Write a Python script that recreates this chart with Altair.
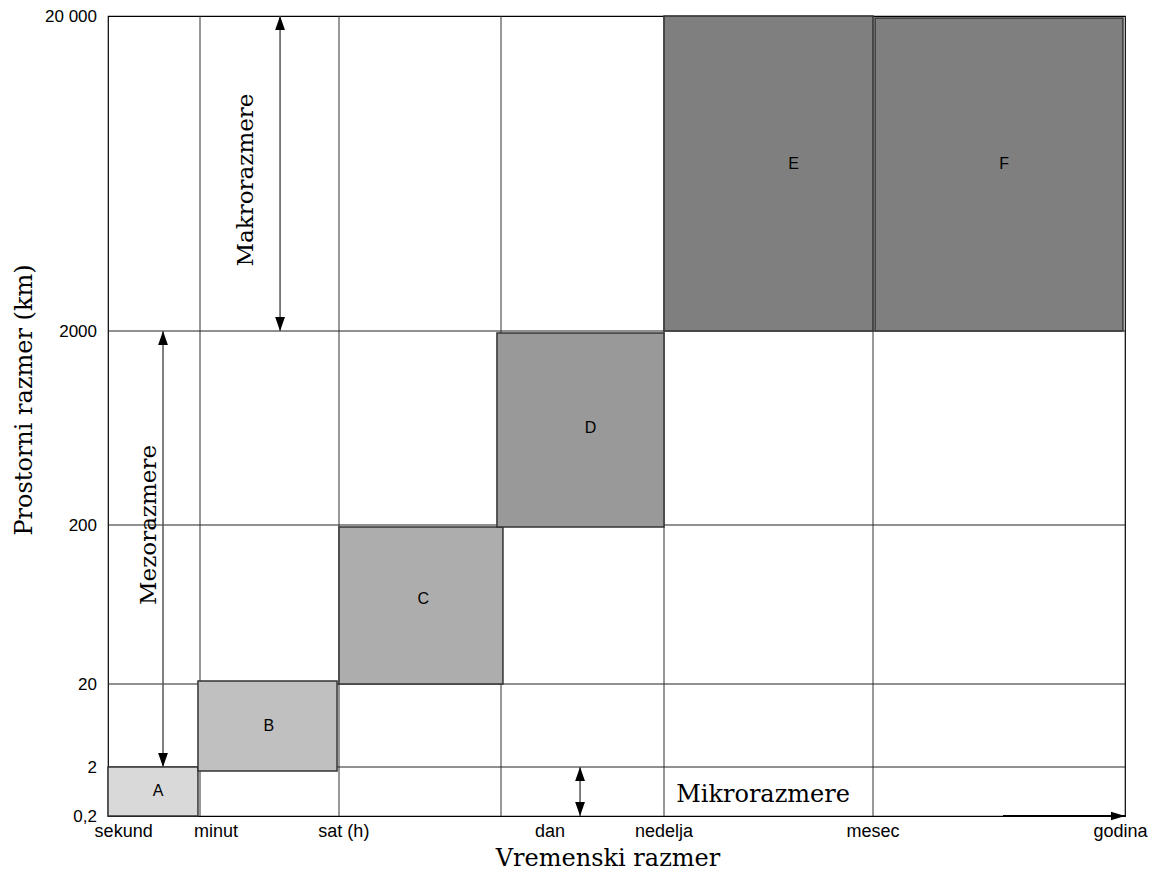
import altair as alt
import pandas as pd

# ---- axes -------------------------------------------------------------
x_breaks = [0, 1, 2, 3, 4, 5, 6]
y_levels = [0.2, 2, 20, 200, 2000, 20000]
y_tick_labels = ["0,2", "2", "20", "200", "2000", "20 000"]

time_labels = ["sekund", "minut", "sat (h)", "dan", "nedelja", "mesec", "godina"]
time_label_pos = [0.17, 1.115, 2.03, 3.3, 4.0, 5.0, 5.982]

# ---- boxes ------------------------------------------------------------
box_names = ["A", "B", "C", "D", "E", "F"]
box_x0 = [0.0, 0.978, 2.0, 2.975, 4.0, 5.008]
box_x1 = [0.978, 1.986, 3.012, 4.0, 5.0, 5.992]
box_y0 = [0.2, 1.85, 20, 197.7, 2000, 2000]
box_y1 = [2, 23.4, 197.7, 1981, 20000, 19886]
box_colors = ["#d9d9d9", "#c0c0c0", "#adadad", "#999999", "#7f7f7f", "#7f7f7f"]
label_x = [0.543, 1.496, 2.52, 3.55, 4.62, 5.52]
label_y = [1.12, 10.9, 116, 1100, 11543, 11543]

# ---- scale arrows & annotations ---------------------------------------
arrow_names = ["Makrorazmere", "Mezorazmere", "Mikrorazmere"]
arrow_x = [1.576, 0.598, 3.485]
arrow_lo = [2000, 2, 0.2]
arrow_hi = [20000, 2000, 2]
ann_x = [1.33, 0.446, 4.474]
ann_y = [10629, 200, 0.97]
ann_angle = [270, 270, 0]

SERIF = "DejaVu Serif"
SANS = "Liberation Sans"

W, H = 1017, 800
xs = alt.Scale(domain=x_breaks, range=[0, 92, 231, 393, 556, 765, W], zero=False, nice=False)
ys = alt.Scale(domain=y_levels, range=[H, 751, 668, 509, 315, 0], zero=False, nice=False)

boxes = pd.DataFrame({"name": box_names, "x0": box_x0, "x1": box_x1,
                      "y0": box_y0, "y1": box_y1})
labels = pd.DataFrame({"name": box_names, "x": label_x, "y": label_y})
vlines = pd.DataFrame({"x": x_breaks[1:-1]})
hlines = pd.DataFrame({"y": y_levels[1:-1]})
ylabels = pd.DataFrame({"y": y_levels, "t": y_tick_labels})
arrows = pd.DataFrame({"name": arrow_names, "x": arrow_x, "lo": arrow_lo, "hi": arrow_hi})
ann = pd.DataFrame({"name": arrow_names, "x": ann_x, "y": ann_y, "angle": ann_angle})
tlabels = pd.DataFrame({"t": time_labels, "x": time_label_pos})
xarrow = pd.DataFrame({"x0": [5.516], "x1": [x_breaks[-1]], "y": [y_levels[0]]})

X = lambda f: alt.X(f, scale=xs, axis=None)
Y = lambda f: alt.Y(f, scale=ys, axis=None)

vgrid = alt.Chart(vlines).mark_rule(color="#333", strokeWidth=1).encode(x=X("x:Q"))
hgrid = alt.Chart(hlines).mark_rule(color="#222", strokeWidth=1).encode(y=Y("y:Q"))

ylab = alt.Chart(ylabels).mark_text(font=SANS, fontSize=17, color="black", align="right",
                                    baseline="middle", dy=1).encode(
    x=alt.value(-11), y=Y("y:Q"), text="t:N")

rects = alt.Chart(boxes).mark_rect(stroke="#333", strokeWidth=1.5).encode(
    x=X("x0:Q"), x2="x1:Q", y=Y("y0:Q"), y2="y1:Q",
    color=alt.Color("name:N", scale=alt.Scale(domain=box_names, range=box_colors), legend=None))

rect_text = alt.Chart(labels).mark_text(font=SANS, fontSize=16, color="black").encode(
    x=X("x:Q"), y=Y("y:Q"), text="name:N")

arrow_lines = alt.Chart(arrows).mark_rule(color="#555", strokeWidth=1.5).encode(
    x=X("x:Q"), y=Y("lo:Q"), y2="hi:Q")

UP = "M0,0L-0.7,2L0.7,2Z"
DOWN = "M0,0L-0.7,-2L0.7,-2Z"
RIGHT = "M0,0L-2,-0.6L-2,0.6Z"

heads_up = alt.Chart(arrows).mark_point(shape=UP, size=196, filled=True, color="black",
                                        opacity=1, strokeWidth=0).encode(
    x=X("x:Q"), y=Y("hi:Q"))
heads_down = alt.Chart(arrows).mark_point(shape=DOWN, size=196, filled=True, color="black",
                                          opacity=1, strokeWidth=0).encode(
    x=X("x:Q"), y=Y("lo:Q"))

xarrow_line = alt.Chart(xarrow).mark_rule(color="black", strokeWidth=2).encode(
    x=X("x0:Q"), x2="x1:Q", y=Y("y:Q"))
xarrow_head = alt.Chart(xarrow).mark_point(shape=RIGHT, size=196, filled=True, color="black",
                                           opacity=1, strokeWidth=0).encode(
    x=X("x1:Q"), y=Y("y:Q"))

ann_v = alt.Chart(ann[ann.angle == 270]).mark_text(font=SERIF, fontSize=23, angle=270,
                                                    color="black").encode(
    x=X("x:Q"), y=Y("y:Q"), text="name:N")
ann_h = alt.Chart(ann[ann.angle == 0]).mark_text(font=SERIF, fontSize=24,
                                                  color="black").encode(
    x=X("x:Q"), y=Y("y:Q"), text="name:N")

xlab = alt.Chart(tlabels).mark_text(font=SANS, fontSize=18, color="black", baseline="middle").encode(
    x=X("x:Q"), y=alt.value(H + 16), text="t:N")

xtitle = alt.Chart(pd.DataFrame({"t": ["Vremenski razmer"]})).mark_text(
    font=SERIF, fontSize=24, color="black", baseline="alphabetic").encode(
    x=alt.value(500), y=alt.value(850), text="t:N")
ytitle = alt.Chart(pd.DataFrame({"t": ["Prostorni razmer (km)"]})).mark_text(
    font=SERIF, fontSize=24, color="black", angle=270, baseline="middle").encode(
    x=alt.value(-83), y=alt.value(384), text="t:N")

chart = alt.layer(
    vgrid, hgrid, ylab, rects, rect_text, arrow_lines, heads_up, heads_down,
    xarrow_line, xarrow_head, ann_v, ann_h, xlab, xtitle, ytitle
).properties(
    width=W, height=H,
    autosize=alt.AutoSizeParams(type="none"),
    padding={"left": 100, "top": 8, "right": 25, "bottom": 55},
    background="white",
).configure_view(stroke="black", strokeWidth=1.2)

chart.save("out.html", embed_options={"renderer": "svg", "actions": False})
